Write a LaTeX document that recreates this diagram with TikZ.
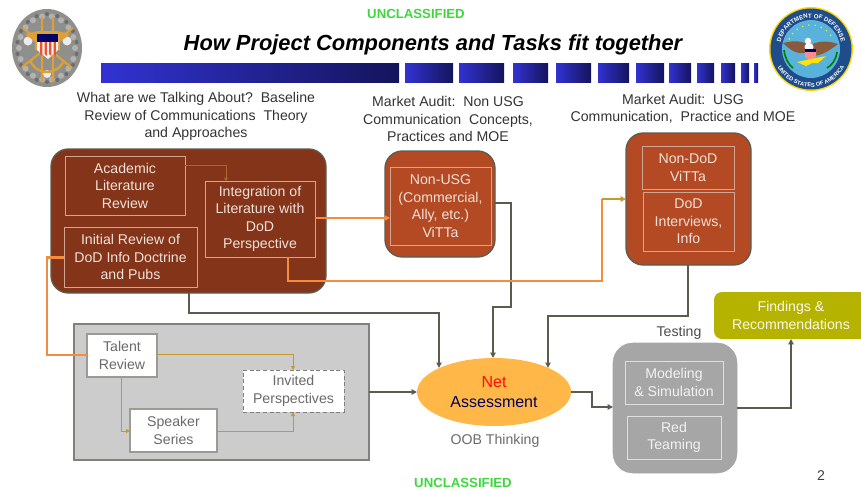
\documentclass[tikz,border=0pt]{standalone}
\usepackage{fontspec}
\setmainfont{Liberation Sans}
\usetikzlibrary{arrows.meta,shapes.geometric,decorations.text}
\definecolor{brownD}{HTML}{843419}
\definecolor{brownL}{HTML}{B34A24}
\definecolor{edgeD}{HTML}{5C5C4E}
\definecolor{inner}{HTML}{D0A593}
\definecolor{txtL}{HTML}{F0E2DA}
\definecolor{oran}{HTML}{F58C3E}
\definecolor{goldL}{HTML}{C49A2C}
\definecolor{panel}{HTML}{CCCCCC}
\definecolor{panelE}{HTML}{82827A}
\definecolor{txtG}{HTML}{6A6A6A}
\definecolor{testG}{HTML}{A6A6A6}
\definecolor{olive}{HTML}{B5B300}
\definecolor{ell}{HTML}{FFB847}
\definecolor{greenU}{HTML}{3FD63F}
\definecolor{barA}{HTML}{3232D2}
\definecolor{barB}{HTML}{14145C}
\definecolor{sealG}{HTML}{DDA038}
\definecolor{silver}{HTML}{8F8F8C}
\definecolor{sealN}{HTML}{1F4C8A}
\definecolor{sealB}{HTML}{58B2DC}
\definecolor{wing}{HTML}{8A5A3C}
\tikzset{
 wh/.style 2 args={minimum width=#1*0.75pt,minimum height=#2*0.75pt,inner sep=0pt,outer sep=0pt,align=center},
 body/.style={font=\fontsize{10.6}{13.1}\selectfont},
 lbl/.style={body,text=black!80,align=center,inner sep=0pt},
 group/.style={draw=edgeD,line width=1pt,rounded corners=13pt,body},
 innerbox/.style={draw=inner,line width=.7pt,text=txtL,body},
 whitebox/.style={draw=panelE!80,line width=.8pt,fill=white,text=txtG,body},
 main/.style={draw=edgeD,line width=1.8pt,-{Triangle[length=4pt,width=4pt]}},
 orline/.style={draw=oran,line width=1.7pt},
 thinl/.style={draw=goldL,line width=.6pt,-{Triangle[length=3pt,width=3pt]}},
}
\newcommand{\barseg}[2]{\shade[left color=barA,right color=barB] (#1,63) rectangle (#2,82);}
\begin{document}
\begin{tikzpicture}[x=0.75pt,y=-0.75pt]
\useasboundingbox (0,0) rectangle (861,490);
% title area
\node[text=greenU,font=\fontsize{9.9}{12}\selectfont\bfseries,inner sep=0pt] (ua) at (416,14) {UNCLASSIFIED};
\node[font=\fontsize{16.4}{19}\selectfont\bfseries\itshape,inner sep=0pt] (title) at (433,44.5) {How Project Components and Tasks fit together};
\barseg{101}{399}\barseg{405}{453}\barseg{459}{504}\barseg{513}{548}\barseg{556}{591}\barseg{598}{629}\barseg{636}{664}\barseg{669}{691}\barseg{697}{714}\barseg{721}{735}\barseg{741}{749}\barseg{754}{758}
% left seal
\fill[silver] (47,48) ellipse [x radius=35,y radius=39];
\foreach \a in {0,20,...,340}{\fill[gray!60] (47,48)++(\a:28 and 32) circle (3);\fill[gray!85!black] (47,48)++(\a+10:30 and 34) circle (2);}
\fill[white!85!gray] (28,41) circle (4.5) (67,41) circle (4.5) (47,74) circle (4);
\draw[sealG,line width=1.6pt] (42,17) -- (42,82) (53,17) -- (53,82) (23,28) -- (72,68) (73,28) -- (22,67);
\draw[sealG,line width=1.8pt] (30,60) .. controls (36,76) and (58,76) .. (64,60);
\fill[sealG] (25,34) -- (38,31) -- (57,31) -- (70,34) -- (60,42) -- (60,50) -- (35,50) -- (35,42) -- cycle;
\fill[white!88!orange] (37,34) -- (58,34) -- (58,50) -- (48,59) -- (37,50) -- cycle;
\foreach \x in {40,44.5,49,53.5}{\fill[red!60!brown!85] (\x,42) -- (\x+2.4,42) -- (\x+2.4,56) -- (\x,54) -- cycle;}
\fill[blue!40!black] (37,34) rectangle (58,42);
% right seal
\fill[yellow!75!orange] (811,49) circle (42);
\fill[sealN] (811,49) circle (40.5);
\fill[sealB] (811,49) circle (29);
\path[decorate,decoration={text along path,text align=center,text={|\fontsize{4.6}{5}\selectfont\bfseries\color{white}|DEPARTMENT OF DEFENSE}}] (780,49) arc [start angle=180,end angle=360,radius=31];
\path[decorate,decoration={text along path,text align=center,text={|\fontsize{4.2}{5}\selectfont\bfseries\color{white}|UNITED STATES OF AMERICA}}] (773,49) arc [start angle=180,end angle=0,radius=38];
\foreach \a in {205,220,...,335}{\fill[yellow!90!orange] (811,49)++(\a:24) circle (.9);}
\fill[wing] (810,51) -- (783,43) .. controls (795,40) and (804,41) .. (810,46) .. controls (816,41) and (826,40) .. (838,44) .. controls (830,50) and (822,56) .. (812,56) -- (810,51) .. controls (800,56) and (792,52) .. (783,43) -- cycle;
\fill[white] (808,41) circle (3.2) (809,47) ellipse [x radius=4.5,y radius=4];
\fill[red!45!white] (805,50) -- (816,50) -- (816,57) -- (810.5,61) -- (805,57) -- cycle;
\fill[blue!40!black] (805,49) rectangle (816,52);
\fill[yellow!85!orange] (797,62) -- (811,59) -- (826,56) -- (818,63) -- (812,63) -- (806,66) -- cycle;
\draw[green!50!black,line width=1.2pt] (784,50) .. controls (785,58) and (788,64) .. (793,68) (837,52) .. controls (836,60) and (832,65) .. (827,68);
% headings
\node[lbl] (h1) at (196,116.5) {What are we Talking About?\ \ Baseline\\Review of Communications\ \ Theory\\and Approaches};
\node[lbl] (h2) at (448,119) {Market Audit:\ \ Non USG\\Communication\ \ Concepts,\\Practices and MOE};
\node[lbl] (h3) at (683,109) {Market Audit:\ \ USG\\Communication,\ \ Practice and MOE};
% group 1
\node[group,fill=brownD,wh={275}{144}] (g1) at (188.5,221) {};
\node[innerbox,wh={120}{59}] (acad) at (125,185.5) {Academic\\Literature\\Review};
\node[innerbox,wh={110}{76}] (integ) at (260,219) {Integration of\\Literature with\\DoD\\Perspective};
\node[innerbox,wh={133}{60}] (init) at (130.5,257) {Initial Review of\\DoD Info Doctrine\\and Pubs};
% non usg
\node[group,fill=brownL,wh={110}{106}] (g2) at (440,204) {};
\node[innerbox,wh={101}{78}] (nonusg) at (440.5,206) {Non-USG\\(Commercial,\\Ally, etc.)\\ViTTa};
% usg
\node[group,fill=brownL,wh={125}{132}] (g3) at (688.5,199) {};
\node[innerbox,wh={92}{43}] (nondod) at (688,167.5) {Non-DoD\\ViTTa};
\node[innerbox,wh={91}{59}] (dod) at (688.5,221.5) {DoD\\Interviews,\\Info};
% panel
\node[draw=panelE,fill=panel,line width=1.2pt,wh={295}{136}] (panelb) at (221.5,392) {};
\node[whitebox,wh={70}{43}] (talent) at (122,355.5) {Talent\\Review};
\node[whitebox,wh={87}{43}] (speaker) at (173.5,430.5) {Speaker\\Series};
\node[whitebox,draw=gray,densely dashed,line width=.6pt,wh={101}{42}] (invited) at (293.5,391) {Invited\\Perspectives};
% net assessment
\node[ellipse,fill=ell,wh={154}{68},font=\fontsize{12}{14.6}\selectfont] (asmt) at (494,392) {\textcolor{red!90!orange}{Net}\\\textcolor{blue!35!black}{Assessment}};
\node[lbl,text=txtG] (oob) at (495,441) {OOB Thinking};
% testing
\node[draw=testG,fill=testG,rounded corners=15pt,wh={124}{130}] (g4) at (675,408) {};
\node[lbl,text=black!70] (testing) at (679,333) {Testing};
\node[innerbox,draw=gray!25,text=white!90!gray,wh={98}{43}] (model) at (674,382.5) {Modeling\\\&\ Simulation};
\node[innerbox,draw=gray!25,text=white!90!gray,wh={94}{43}] (red) at (674,437.5) {Red\\Teaming};
% findings
\node[fill=olive,text=white!92!olive,rounded corners=6pt,wh={154}{47},body] (find) at (791,315.5) {Findings \&\\Recommendations};
\node[lbl,text=black!75] (pg) at (821,476) {2};
\node[text=greenU,font=\fontsize{9.9}{12}\selectfont\bfseries,inner sep=0pt] (ub) at (463,483) {UNCLASSIFIED};
% connectors
\draw[thinl,draw=brown!80!black!90!orange,-{Triangle[length=2.5pt,width=3pt]}] (acad.east |- 0,165) -- (226,165) -- (integ.north -| 226,0);
\draw[orline] (init.west |- 0,257.5) -- (47,257.5) -- (47,355) -- (talent.west |- 0,355);
\draw[thinl] (talent.east |- 0,354) -- (293,354) -- (invited.north -| 293,0);
\draw[thinl] (talent.south -| 121,0) -- (121,431) -- (speaker.west |- 0,431);
\draw[thinl] (speaker.east |- 0,431) -- (293,431) -- (invited.south -| 293,0);
\draw[main] (panelb.east) -- (asmt.west);
\draw[main] (g1.south -| 189,0) -- (189,313) -- (439,313) -- (439,0 |- asmt.156);
\draw[main] (g2.east |- 0,203) -- (511,203) -- (511,307) -- (493,307) -- (asmt.north -| 493,0);
\draw[main] (g3.south -| 688,0) -- (688,316) -- (548,316) -- (548,0 |- asmt.24);
\draw[main] (asmt.east) -- (592,392) -- (592,407) -- (g4.west |- 0,407);
\draw[main] (g4.east |- 0,408) -- (791,408) -- (find.south);
\draw[orline,-{Triangle[length=4pt,width=4pt]}] (integ.east |- 0,218) -- (nonusg.west |- 0,218);
\draw[orline] (integ.south -| 288,0) -- (288,281) -- (602,281) -- (602,199);
\draw[draw=goldL,line width=1.4pt,-{Triangle[length=4pt,width=4pt]}] (602,199) -- (g3.west |- 0,199);
\end{tikzpicture}
\end{document}
